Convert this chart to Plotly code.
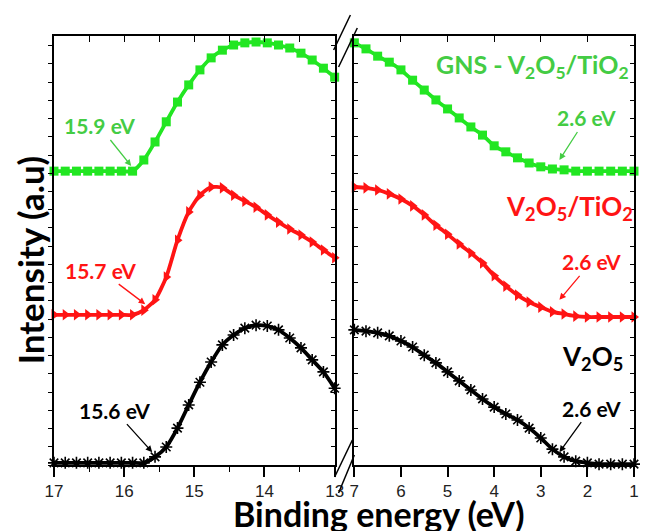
import plotly.graph_objects as go

# Binding energy grids (eV): valence-band onset region and low-energy cut-off region
be_high = [17.00, 16.84, 16.68, 16.52, 16.36, 16.20, 16.04, 15.88, 15.72, 15.56,
           15.40, 15.24, 15.08, 14.92, 14.76, 14.60, 14.44, 14.28, 14.12, 13.96,
           13.80, 13.64, 13.48, 13.32, 13.16, 13.00]
be_low = [7.00, 6.75, 6.50, 6.25, 6.00, 5.75, 5.50, 5.25, 5.00, 4.75, 4.50, 4.25,
          4.00, 3.75, 3.50, 3.25, 3.00, 2.75, 2.50, 2.25, 2.00, 1.75, 1.50, 1.25, 1.00]

# Intensities (a.u., vertically offset per sample)
v2o5_high = [0.5, 0.5, 0.5, 0.5, 0.5, 0.5, 0.5, 0.5, 0.5, 1.9, 4.2, 8.6, 14.0, 19.3,
             24.0, 28.0, 30.3, 31.9, 32.6, 32.4, 31.5, 29.6, 27.3, 24.5, 21.7, 17.9]
vt_high = [35.0, 35.0, 35.0, 35.0, 35.0, 35.0, 35.0, 35.0, 36.1, 38.5, 43.8, 52.4, 59.0,
           62.9, 64.8, 64.6, 62.9, 61.5, 60.1, 58.3, 56.6, 55.0, 53.6, 52.0, 50.1, 48.3]
gns_high = [68.5, 68.5, 68.5, 68.5, 68.5, 68.5, 68.5, 68.5, 71.1, 75.3, 80.0, 84.6, 88.6,
            92.1, 94.9, 96.7, 97.9, 98.4, 98.6, 98.4, 97.9, 97.2, 96.0, 94.4, 92.5, 90.4]

v2o5_low = [31.5, 31.2, 30.8, 30.1, 28.9, 27.5, 25.6, 23.8, 21.7, 19.6, 17.5, 15.4, 13.5,
            11.9, 10.5, 8.6, 6.3, 3.7, 1.9, 0.9, 0.5, 0.2, 0.2, 0.2, 0.2]
vt_low = [64.8, 64.6, 64.1, 63.2, 62.0, 60.4, 58.3, 55.9, 53.8, 51.5, 49.4, 47.1, 44.1,
          41.7, 39.6, 38.0, 36.8, 35.7, 35.2, 34.7, 34.5, 34.5, 34.5, 34.5, 34.5]
gns_low = [98.4, 97.0, 95.3, 93.9, 92.1, 89.7, 87.4, 85.1, 83.0, 80.9, 78.8, 76.9, 74.4,
           73.0, 71.6, 70.4, 69.5, 69.0, 68.8, 68.5, 68.5, 68.5, 68.5, 68.5, 68.5]

# Onset energies marked with arrows (eV) and the curve height at the arrow tip
onset_high = [15.9, 15.7, 15.6]
onset_high_y = [69.7, 37.5, 3.0]
onset_low = [2.6, 2.6, 2.6]
onset_low_y = [71.1, 38.5, 3.0]

GREEN_LINE = "#22e622"
GREEN_TEXT = "#44cc44"
RED = "#ff1414"
BLACK = "#000000"

series = [
    ("V<sub>2</sub>O<sub>5</sub>", v2o5_high, v2o5_low, BLACK,
     dict(symbol="asterisk-open", size=10, line=dict(color=BLACK, width=1.6))),
    ("V<sub>2</sub>O<sub>5</sub>/TiO<sub>2</sub>", vt_high, vt_low, RED,
     dict(symbol="triangle-right", size=10, color=RED)),
    ("GNS - V<sub>2</sub>O<sub>5</sub>/TiO<sub>2</sub>", gns_high, gns_low, GREEN_LINE,
     dict(symbol="square", size=9, color=GREEN_LINE)),
]

fig = go.Figure()
for name, yh, yl, col, mk in series:
    fig.add_trace(go.Scatter(x=be_high, y=yh, mode="lines+markers", name=name,
                             line=dict(color=col, width=3.8, shape="spline", smoothing=0.6),
                             marker=mk, xaxis="x", yaxis="y", cliponaxis=False,
                             showlegend=False))
    fig.add_trace(go.Scatter(x=be_low, y=yl, mode="lines+markers", name=name,
                             line=dict(color=col, width=3.8, shape="spline", smoothing=0.6),
                             marker=mk, xaxis="x2", yaxis="y2", cliponaxis=False,
                             showlegend=False))

# empty traces so the overlay frame axes get drawn
fig.add_trace(go.Scatter(x=[None], y=[None], xaxis="x3", yaxis="y", showlegend=False, hoverinfo="skip"))
fig.add_trace(go.Scatter(x=[None], y=[None], xaxis="x", yaxis="y3", showlegend=False, hoverinfo="skip"))
fig.add_trace(go.Scatter(x=[None], y=[None], xaxis="x4", yaxis="y2", showlegend=False, hoverinfo="skip"))

W, H = 646, 531
ml, mr, mt, mb = 54, 3, 36, 66
pw = W - ml - mr
ph = H - mt - mb
split_l = (339 - ml) / pw
split_r = (359 - ml) / pw

tickfont = dict(family="Liberation Sans Narrow, Arial Narrow, sans-serif", size=17, color="#222")
axline = dict(showline=True, linecolor=BLACK, linewidth=2, showgrid=False, zeroline=False)
ydt = 4.25

fig.update_layout(
    width=W, height=H,
    margin=dict(l=ml, r=mr, t=mt, b=mb),
    paper_bgcolor="white", plot_bgcolor="white",
    xaxis=dict(domain=[0, split_l], range=[17, 13], anchor="y", tickmode="array",
               tickvals=[17, 16, 15, 14, 13], ticks="outside", ticklen=10, tickwidth=1.5,
               tickcolor=BLACK, tickfont=tickfont,
               minor=dict(dtick=0.5, ticks="outside", ticklen=5, tickcolor=BLACK, tickwidth=1.2),
               **axline),
    xaxis2=dict(domain=[split_r, 1], range=[7, 1], anchor="y2", dtick=1, tick0=1,
                ticks="outside", ticklen=10, tickwidth=1.5, tickcolor=BLACK,
                tickfont=tickfont, **axline),
    xaxis3=dict(overlaying="x", matches="x", side="top", anchor="y", dtick=0.5,
                ticks="inside", ticklen=6, tickcolor=BLACK, showticklabels=False, **axline),
    xaxis4=dict(overlaying="x2", matches="x2", side="top", anchor="y2", dtick=1, tick0=1,
                ticks="inside", ticklen=6, tickcolor=BLACK, showticklabels=False, **axline),
    yaxis=dict(domain=[0, 1], range=[0, 100], anchor="x", dtick=ydt, tick0=0,
               ticks="outside", ticklen=4, tickwidth=1.2, tickcolor=BLACK,
               showticklabels=False, **axline),
    yaxis2=dict(domain=[0, 1], range=[0, 100], anchor="x2", dtick=ydt, tick0=0,
                ticks="inside", ticklen=4, tickwidth=1.2, tickcolor=BLACK, mirror="ticks",
                showticklabels=False, **axline),
    yaxis3=dict(overlaying="y", matches="y", side="right", anchor="x", dtick=ydt, tick0=0,
                ticks="inside", ticklen=4, tickwidth=1.2, tickcolor=BLACK,
                showticklabels=False, **axline),
)

label_font = "Lato, Open Sans, sans-serif"
onset_cols = [GREEN_TEXT, RED, BLACK]
off_high = [(-32, -40), (-45, -34), (-38, -42)]
off_low = [(27, -42), (32, -38), (32, -44)]
ann = []
for i, col in enumerate(onset_cols):
    ann.append(dict(x=onset_high[i], y=onset_high_y[i], xref="x", yref="y",
                    text=f"<b>{onset_high[i]} eV</b>", showarrow=True,
                    ax=off_high[i][0], ay=off_high[i][1], arrowhead=2, arrowsize=1,
                    arrowwidth=1.3, arrowcolor=col, standoff=0,
                    font=dict(family=label_font, size=21, color=col)))
    ann.append(dict(x=onset_low[i], y=onset_low_y[i], xref="x2", yref="y2",
                    text=f"<b>{onset_low[i]} eV</b>", showarrow=True,
                    ax=off_low[i][0], ay=off_low[i][1], arrowhead=2, arrowsize=1,
                    arrowwidth=1.3, arrowcolor=col, standoff=0,
                    font=dict(family=label_font, size=21, color=col)))

# sample names
name_pos = [((601 - ml) / pw, (465 - 357) / ph, BLACK, 26),
            ((577 - ml) / pw, (465 - 207) / ph, RED, 26),
            ((540 - ml) / pw, (465 - 66) / ph, GREEN_TEXT, 25)]
for (px, py, col, fs), (name, *_rest) in zip(name_pos, series):
    ann.append(dict(x=px, y=py, xref="paper", yref="paper", text=f"<b>{name}</b>",
                    showarrow=False, xanchor="center", yanchor="middle",
                    font=dict(family=label_font, size=fs, color=col)))

# axis titles
ann.append(dict(x=(30 - ml) / pw, y=(465 - 260) / ph, xref="paper", yref="paper",
                text="<b>Intensity (a.u)</b>", textangle=-90, showarrow=False,
                xanchor="center", yanchor="middle",
                font=dict(family=label_font, size=35, color=BLACK)))
ann.append(dict(x=(384 - ml) / pw, y=(465 - 513) / ph, xref="paper", yref="paper",
                text="<b>Binding energy (eV)</b>", showarrow=False,
                xanchor="center", yanchor="middle",
                font=dict(family=label_font, size=34, color=BLACK)))
fig.update_layout(annotations=ann)


# axis-break marks between the two panels
def px2paper(px, py):
    return (px - ml) / pw, (465 - py) / ph


breaks = [((338, 50), (355, 15)), ((343, 67), (362, 28)),
          ((339, 477), (357, 440)), ((343, 493), (359, 455))]
shapes = []
for (a, b) in breaks:
    x0, y0 = px2paper(*a)
    x1, y1 = px2paper(*b)
    shapes.append(dict(type="line", xref="paper", yref="paper", x0=x0, y0=y0, x1=x1, y1=y1,
                       line=dict(color=BLACK, width=1.5)))
fig.update_layout(shapes=shapes)

fig.write_html("out.html")
